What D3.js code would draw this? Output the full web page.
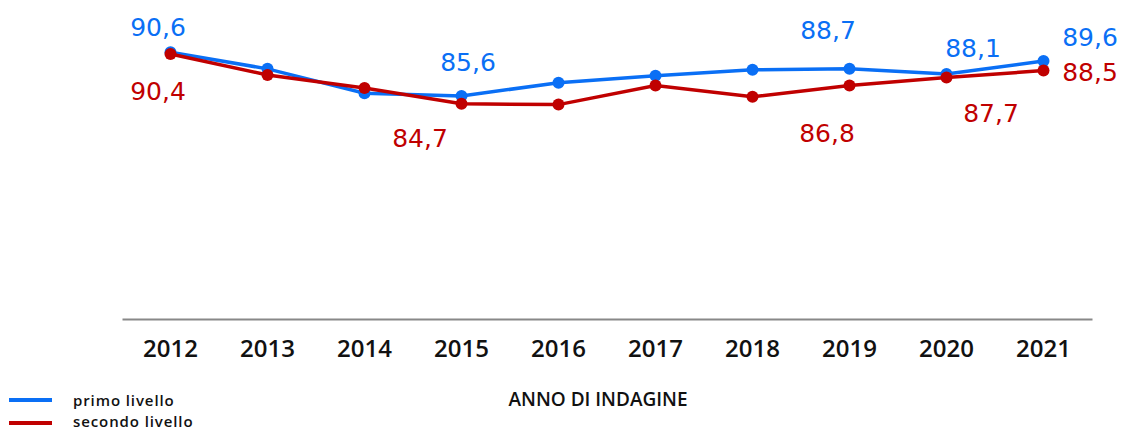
<!DOCTYPE html>
<html><head><meta charset="utf-8">
<script src="https://cdn.jsdelivr.net/npm/d3@7/dist/d3.min.js"></script>
<style>body{margin:0;background:#fff}svg{display:block}</style>
</head><body>
<script>
const years = ["2012","2013","2014","2015","2016","2017","2018","2019","2020","2021"];
const primo = [90.6, 88.7, 85.9, 85.6, 87.1, 87.9, 88.6, 88.7, 88.1, 89.6];
const secondo = [90.4, 88.0, 86.5, 84.7, 84.6, 86.8, 85.5, 86.8, 87.7, 88.5];
const seriesNames = ["primo livello", "secondo livello"];
const seriesColors = ["#0a6ff5", "#c00000"];
// which points carry a value label: [index, dx, dy]
const primoLabels = [[0,-12.5,-25],[3,6.5,-33.5],[7,-21.5,-38.5],[8,26.5,-26],[9,46.5,-24]];
const secondoLabels = [[0,-12.5,37],[3,-41.5,35],[7,-22.5,48],[8,44.5,35.5],[9,46.5,1.6]];
const axisTitle = "ANNO DI INDAGINE";

const W=1122,H=432;
const svg=d3.select("body").append("svg").attr("width",W).attr("height",H);
const x=d3.scaleBand().domain(years).range([122,1092]);
const y=d3.scaleLinear().domain([60,90.6]).range([319,52.3]);
const cx=d=>x(d)+x.bandwidth()/2;

// axis
const ax=svg.append("g").attr("transform","translate(0,319)").call(d3.axisBottom(x).tickSize(0));
ax.select(".domain").attr("stroke","#888").attr("stroke-width",2);
ax.selectAll("text").attr("y",38).attr("dy",null).attr("font-family","'Open Sans'").attr("font-weight",600).attr("font-size",24).attr("fill","#111");

svg.append("text").attr("x",598).attr("y",406).attr("text-anchor","middle")
  .attr("font-family","'Open Sans'").attr("font-weight",600).attr("font-size",19).attr("fill","#111").text(axisTitle);

const line=d3.line().x((d,i)=>cx(years[i])).y(d=>y(d));
[[primo,0,primoLabels],[secondo,1,secondoLabels]].forEach(([vals,k,labs])=>{
  svg.append("path").attr("d",line(vals)).attr("fill","none").attr("stroke",seriesColors[k]).attr("stroke-width",3.5);
  svg.append("g").selectAll("circle").data(vals).join("circle")
    .attr("cx",(d,i)=>cx(years[i])).attr("cy",d=>y(d)).attr("r",6).attr("fill",seriesColors[k]);
  svg.append("g").selectAll("text").data(labs).join("text")
    .attr("x",d=>cx(years[d[0]])+d[1]).attr("y",d=>y(vals[d[0]])+d[2]).attr("dy","0.35em")
    .attr("text-anchor","middle").attr("font-family","'DejaVu Sans'").attr("font-size",25)
    .attr("fill",seriesColors[k])
    .text(d=>String(vals[d[0]].toFixed(1)).replace(".",","));
});

// legend
seriesNames.forEach((n,i)=>{
  const yy=400+i*23;
  svg.append("line").attr("x1",9).attr("x2",52).attr("y1",yy).attr("y2",yy).attr("stroke",seriesColors[i]).attr("stroke-width",4);
  svg.append("text").attr("x",73).attr("y",406+i*21).attr("font-family","'Open Sans'").attr("font-weight",600)
    .attr("font-size",15).attr("letter-spacing",0.9).attr("fill","#111").text(n);
});
</script>
</body></html>
